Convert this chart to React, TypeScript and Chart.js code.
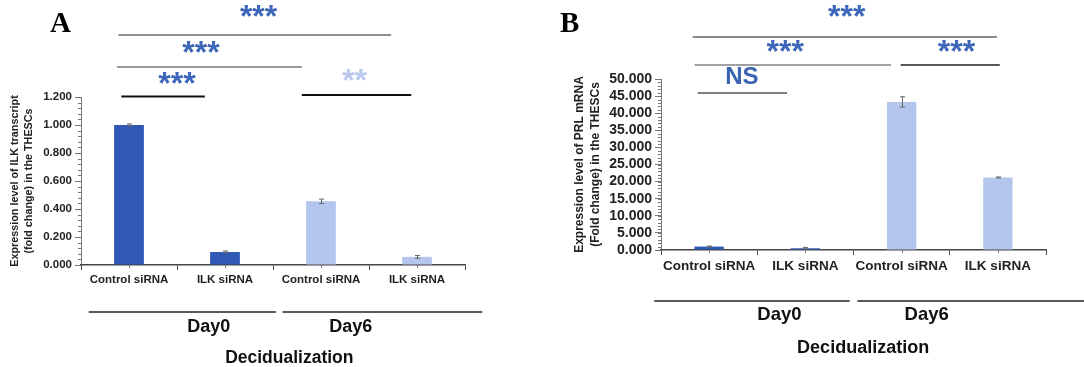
import React, { useEffect, useRef } from "react";
import { Chart, registerables } from "chart.js";

Chart.register(...registerables);

const CATEGORIES = ["Control siRNA", "ILK siRNA", "Control siRNA", "ILK siRNA"];
const GROUPS = ["Day0", "Day6"];
const ILK_VALUES = [1.0, 0.093, 0.455, 0.058];
const ILK_ERRORS = [0.008, 0.007, 0.016, 0.01];
const PRL_VALUES = [1.0, 0.5, 43.3, 21.2];
const PRL_ERRORS = [0.15, 0.25, 1.5, 0.15];
const A_TICK_STEP = 0.2;
const A_MAX = 1.2;
const B_TICK_STEP = 5;
const B_MAX = 50;

const DARK = "#2F59B5";
const LIGHT = "#B5C6EE";
const STAR = "#3D67B9";
const FONT = "'Liberation Sans', Arial, sans-serif";
const BAR_COLORS = [DARK, DARK, LIGHT, LIGHT];
const BAR_COLORS_B = [DARK, DARK, LIGHT, LIGHT];

type Sig = { from: number; to: number; y: number; text: string; tx: number; ty: number; color: string; lineColor: string; lw: number; size: number };

type PanelCfg = {
  letter: string;
  letterX: number;
  letterY: number;
  values: number[];
  errors: number[];
  colors: string[];
  max: number;
  step: number;
  minorDiv: number;
  width: number;
  padding: { left: number; right: number; top: number; bottom: number };
  yWidth: number;
  xHeight: number;
  tickFont: number;
  catFont: number;
  titleLines: string[];
  titleX: number[];
  titleFont: number;
  barPct: number;
  sigs: Sig[];
  groupY: number;
  groupLines: [number, number][];
  groupLabelX: number[];
  groupLabelY: number;
  groupFont: number;
  decidX: number;
  decidY: number;
  decidFont: number;
};

const PANEL_A: PanelCfg = {
  letter: "A",
  letterX: 60,
  letterY: 32,
  values: ILK_VALUES,
  errors: ILK_ERRORS,
  colors: BAR_COLORS,
  max: A_MAX,
  step: A_TICK_STEP,
  minorDiv: 5,
  width: 540,
  padding: { left: 0, right: 75, top: 97, bottom: 72 },
  yWidth: 81,
  xHeight: 30,
  tickFont: 11.5,
  catFont: 11.5,
  titleLines: ["Expression level of ILK transcript", "(fold change) in the THESCs"],
  titleX: [15, 29],
  titleFont: 10.8,
  barPct: 0.31,
  sigs: [
    { from: -0.11, to: 2.73, y: 35, text: "***", tx: 1.35, ty: 14, color: STAR, lineColor: "#6a6a6a", lw: 1.5, size: 32 },
    { from: -0.125, to: 1.8, y: 67, text: "***", tx: 0.75, ty: 50, color: STAR, lineColor: "#333", lw: 1.2, size: 32 },
    { from: -0.08, to: 0.79, y: 96.5, text: "***", tx: 0.5, ty: 81, color: STAR, lineColor: "#111", lw: 1.8, size: 32 },
    { from: 1.8, to: 2.94, y: 95, text: "**", tx: 2.35, ty: 78, color: "#B9C8EE", lineColor: "#111", lw: 1.8, size: 32 },
  ],
  groupY: 312,
  groupLines: [[-0.42, 1.53], [1.6, 3.68]],
  groupLabelX: [0.83, 2.31],
  groupLabelY: 327,
  groupFont: 18,
  decidX: 1.67,
  decidY: 358,
  decidFont: 17.5,
};

const PANEL_B: PanelCfg = {
  letter: "B",
  letterX: 570,
  letterY: 32,
  values: PRL_VALUES,
  errors: PRL_ERRORS,
  colors: BAR_COLORS_B,
  max: B_MAX,
  step: B_TICK_STEP,
  minorDiv: 5,
  width: 544,
  padding: { left: 0, right: 38, top: 79, bottom: 83 },
  yWidth: 121,
  xHeight: 34,
  tickFont: 14,
  catFont: 13.5,
  titleLines: ["Expression level of PRL mRNA", "(Fold change) in the THESCs"],
  titleX: [40, 56],
  titleFont: 12,
  barPct: 0.305,
  sigs: [
    { from: -0.17, to: 2.99, y: 37, text: "***", tx: 1.43, ty: 14, color: STAR, lineColor: "#666", lw: 1.3, size: 32 },
    { from: -0.15, to: 1.89, y: 65, text: "***", tx: 0.79, ty: 49, color: STAR, lineColor: "#444", lw: 1.2, size: 32 },
    { from: 1.99, to: 3.02, y: 65, text: "***", tx: 2.57, ty: 49, color: STAR, lineColor: "#222", lw: 1.4, size: 32 },
    { from: -0.12, to: 0.81, y: 93, text: "NS", tx: 0.34, ty: 77, color: "#3A64B3", lineColor: "#555", lw: 1.3, size: 24 },
  ],
  groupY: 301,
  groupLines: [[-0.57, 1.46], [1.54, 3.95]],
  groupLabelX: [0.73, 2.26],
  groupLabelY: 315,
  groupFont: 18.5,
  decidX: 1.6,
  decidY: 348,
  decidFont: 18,
};

function makePlugin(cfg: PanelCfg, offsetX: number) {
  return {
    id: "decor" + cfg.letter,
    afterDraw(chart: any) {
      const ctx: CanvasRenderingContext2D = chart.ctx;
      const xs = chart.scales.x;
      const ys = chart.scales.y;
      const area = chart.chartArea;
      ctx.save();
      // minor ticks on y axis
      ctx.strokeStyle = "#777";
      ctx.lineWidth = 1;
      const minorStep = cfg.step / cfg.minorDiv;
      for (let v = 0; v <= cfg.max + 1e-9; v += minorStep) {
        const py = Math.round(ys.getPixelForValue(v)) + 0.5;
        ctx.beginPath();
        ctx.moveTo(area.left - 3, py);
        ctx.lineTo(area.left, py);
        ctx.stroke();
      }
      // small ticks at category centres below axis
      cfg.values.forEach((_, i) => {
        const px = Math.round(xs.getPixelForValue(i)) + 0.5;
        ctx.beginPath();
        ctx.moveTo(px, area.bottom);
        ctx.lineTo(px, area.bottom + 3);
        ctx.stroke();
      });
      // error bars
      const meta = chart.getDatasetMeta(0);
      ctx.strokeStyle = "#666";
      ctx.lineWidth = 1;
      meta.data.forEach((bar: any, i: number) => {
        const v = cfg.values[i];
        const e = cfg.errors[i];
        const x = Math.round(bar.x) + 0.5;
        const y1 = ys.getPixelForValue(v + e);
        const y2 = ys.getPixelForValue(v - e);
        ctx.beginPath();
        ctx.moveTo(x, y1);
        ctx.lineTo(x, y2);
        ctx.moveTo(x - 2.5, y1);
        ctx.lineTo(x + 2.5, y1);
        ctx.moveTo(x - 2.5, y2);
        ctx.lineTo(x + 2.5, y2);
        ctx.stroke();
      });
      // y title
      ctx.fillStyle = "#222";
      ctx.font = `bold ${cfg.titleFont}px ${FONT}`;
      ctx.textAlign = "center";
      ctx.textBaseline = "middle";
      const midY = (area.top + area.bottom) / 2;
      cfg.titleLines.forEach((t, i) => {
        ctx.save();
        ctx.translate(cfg.titleX[i], midY);
        ctx.rotate(-Math.PI / 2);
        ctx.fillText(t, 0, 0);
        ctx.restore();
      });
      // significance
      cfg.sigs.forEach((s) => {
        const x1 = xs.getPixelForValue(s.from);
        const x2 = xs.getPixelForValue(s.to);
        ctx.strokeStyle = s.lineColor;
        ctx.lineWidth = s.lw;
        ctx.beginPath();
        ctx.moveTo(x1, s.y);
        ctx.lineTo(x2, s.y);
        ctx.stroke();
        ctx.fillStyle = s.color;
        ctx.font = `bold ${s.size}px ${FONT}`;
        ctx.textAlign = "center";
        if (s.text === "NS") {
          ctx.textBaseline = "middle";
          ctx.fillText(s.text, xs.getPixelForValue(s.tx), s.ty);
        } else {
          ctx.textBaseline = "alphabetic";
          ctx.fillText(s.text, xs.getPixelForValue(s.tx), s.ty + s.size * 0.42);
        }
      });
      // group lines
      ctx.strokeStyle = "#222";
      ctx.lineWidth = 1.6;
      cfg.groupLines.forEach(([a, b]) => {
        ctx.beginPath();
        ctx.moveTo(xs.getPixelForValue(a), cfg.groupY);
        ctx.lineTo(xs.getPixelForValue(b), cfg.groupY);
        ctx.stroke();
      });
      ctx.fillStyle = "#111";
      ctx.textBaseline = "middle";
      ctx.textAlign = "center";
      ctx.font = `bold ${cfg.groupFont}px ${FONT}`;
      GROUPS.forEach((g, i) => {
        ctx.fillText(g, xs.getPixelForValue(cfg.groupLabelX[i]), cfg.groupLabelY);
      });
      ctx.font = `bold ${cfg.decidFont}px ${FONT}`;
      ctx.fillText("Decidualization", xs.getPixelForValue(cfg.decidX), cfg.decidY);
      // panel letter
      ctx.fillStyle = "#000";
      ctx.font = `bold 29px 'Liberation Serif', 'Times New Roman', serif`;
      ctx.textBaseline = "alphabetic";
      ctx.textAlign = "left";
      ctx.fillText(cfg.letter, cfg.letterX - offsetX - 10, cfg.letterY);
      ctx.restore();
    },
  };
}

function Panel({ cfg, left }: { cfg: PanelCfg; left: number }) {
  const ref = useRef<HTMLCanvasElement | null>(null);
  useEffect(() => {
    if (!ref.current) return;
    const chart = new Chart(ref.current, {
      type: "bar",
      data: {
        labels: CATEGORIES,
        datasets: [
          {
            data: cfg.values,
            backgroundColor: cfg.colors,
            barPercentage: cfg.barPct,
            categoryPercentage: 1,
          },
        ],
      },
      options: {
        responsive: false,
        animation: false,
        events: [],
        layout: { padding: cfg.padding },
        plugins: { legend: { display: false }, tooltip: { enabled: false } },
        scales: {
          y: {
            min: 0,
            max: cfg.max,
            afterFit: (s: any) => {
              s.width = cfg.yWidth;
            },
            ticks: {
              stepSize: cfg.step,
              autoSkip: false,
              padding: 3,
              color: "#222",
              font: { family: FONT, size: cfg.tickFont, weight: "bold" },
              callback: (v: any) => Number(v).toFixed(3),
            },
            grid: { drawOnChartArea: false, drawTicks: true, tickLength: 6, color: "#777" },
            border: { color: "#777", width: 1 },
          },
          x: {
            afterFit: (s: any) => {
              s.height = cfg.xHeight;
            },
            ticks: {
              padding: 3,
              color: "#222",
              maxRotation: 0,
              autoSkip: false,
              font: { family: FONT, size: cfg.catFont, weight: "bold" },
            },
            grid: { drawOnChartArea: false, drawTicks: true, tickLength: 5, color: "#444", offset: true },
            border: { color: "#444", width: 1.5 },
          },
        },
      } as any,
      plugins: [makePlugin(cfg, left)],
    });
    return () => chart.destroy();
  }, [cfg, left]);
  return (
    <canvas
      ref={ref}
      width={cfg.width}
      height={367}
      style={{ position: "absolute", left, top: 0, width: cfg.width, height: 367 }}
    />
  );
}

export default function App() {
  return (
    <div style={{ position: "fixed", left: 0, top: 0, width: 1084, height: 367, background: "#fff", overflow: "hidden" }}>
      <Panel cfg={PANEL_A} left={0} />
      <Panel cfg={PANEL_B} left={540} />
    </div>
  );
}
